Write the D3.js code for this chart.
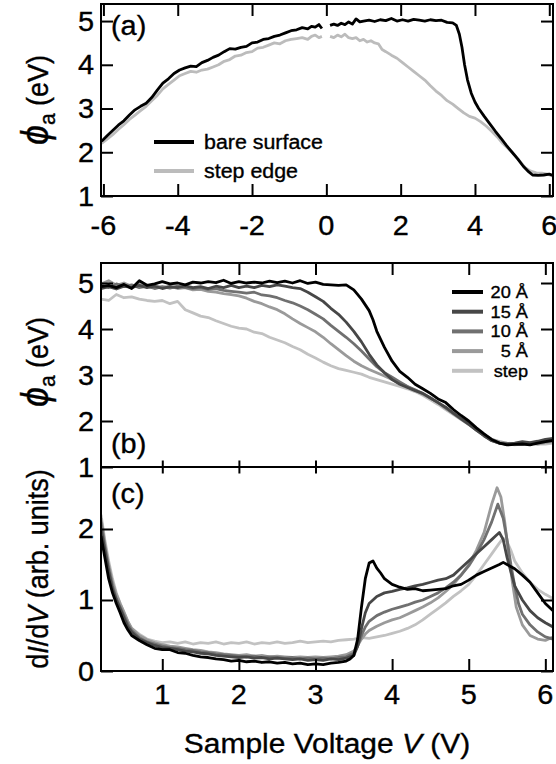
<!DOCTYPE html>
<html><head><meta charset="utf-8">
<script src="https://cdn.jsdelivr.net/npm/d3@7"></script>
<style>body{margin:0;background:#fff}svg{display:block}text{stroke:#000;stroke-width:0.35px}</style>
</head><body><svg id="fig" width="556" height="764"></svg>
<script>
// ---- panel (a): apparent barrier height vs. sample voltage ----
const aTicksX = [-6, -4, -2, 0, 2, 4, 6];
const aTicksY = [1, 2, 3, 4, 5];
const aBareNeg = [[-6.05,2.25],[-5.9,2.38],[-5.75,2.5],[-5.6,2.62],[-5.45,2.72],[-5.3,2.85],[-5.15,2.97],[-5.0,3.05],[-4.85,3.12],[-4.7,3.25],[-4.55,3.42],[-4.4,3.58],[-4.25,3.68],[-4.1,3.8],[-3.95,3.88],[-3.8,3.93],[-3.65,3.97],[-3.5,3.96],[-3.35,4.05],[-3.2,4.1],[-3.05,4.17],[-2.9,4.22],[-2.75,4.3],[-2.6,4.37],[-2.45,4.36],[-2.3,4.4],[-2.15,4.42],[-2.0,4.5],[-1.85,4.52],[-1.7,4.58],[-1.55,4.6],[-1.4,4.65],[-1.25,4.68],[-1.1,4.73],[-0.95,4.78],[-0.8,4.8],[-0.65,4.85],[-0.5,4.82],[-0.4,4.88],[-0.3,4.86],[-0.2,4.92],[-0.12,4.83]];
const aBarePos = [[0.1,4.9],[0.2,4.93],[0.3,4.9],[0.4,4.95],[0.5,4.92],[0.6,4.98],[0.7,4.93],[0.8,5.05],[0.9,4.98],[1.0,5.0],[1.15,5.02],[1.3,4.99],[1.45,5.03],[1.6,5.01],[1.75,5.06],[1.9,5.0],[2.05,5.03],[2.2,5.0],[2.35,5.04],[2.5,5.02],[2.65,5.0],[2.8,5.03],[2.95,5.01],[3.1,5.02],[3.25,4.97],[3.4,4.96],[3.5,4.9],[3.58,4.7],[3.65,4.4],[3.72,4.0],[3.8,3.65],[3.9,3.35],[4.0,3.15],[4.1,3.0],[4.25,2.82],[4.4,2.65],[4.55,2.48],[4.7,2.32],[4.85,2.15],[5.0,2.0],[5.15,1.85],[5.3,1.68],[5.45,1.55],[5.55,1.48],[5.7,1.47],[5.85,1.48],[6.0,1.5],[6.1,1.47]];
const aStepNeg = [[-6.05,2.2],[-5.9,2.3],[-5.75,2.4],[-5.6,2.52],[-5.45,2.63],[-5.3,2.75],[-5.15,2.85],[-5.0,2.95],[-4.85,3.05],[-4.7,3.18],[-4.55,3.3],[-4.4,3.45],[-4.25,3.55],[-4.1,3.65],[-3.95,3.75],[-3.8,3.8],[-3.65,3.85],[-3.5,3.83],[-3.35,3.88],[-3.2,3.9],[-3.05,3.95],[-2.9,4.0],[-2.75,4.08],[-2.6,4.12],[-2.45,4.2],[-2.3,4.22],[-2.15,4.28],[-2.0,4.3],[-1.85,4.38],[-1.7,4.4],[-1.55,4.45],[-1.4,4.5],[-1.25,4.48],[-1.1,4.55],[-0.95,4.58],[-0.8,4.6],[-0.65,4.62],[-0.5,4.58],[-0.4,4.65],[-0.3,4.68],[-0.2,4.62],[-0.12,4.65]];
const aStepPos = [[0.1,4.65],[0.2,4.62],[0.3,4.68],[0.4,4.64],[0.5,4.7],[0.6,4.62],[0.7,4.6],[0.8,4.62],[0.9,4.55],[1.0,4.58],[1.1,4.52],[1.2,4.55],[1.3,4.5],[1.4,4.48],[1.5,4.35],[1.6,4.3],[1.75,4.22],[1.9,4.15],[2.05,4.05],[2.2,3.95],[2.35,3.85],[2.5,3.75],[2.65,3.65],[2.8,3.52],[2.95,3.4],[3.1,3.3],[3.25,3.18],[3.4,3.1],[3.55,3.0],[3.7,2.9],[3.85,2.82],[4.0,2.78],[4.15,2.7],[4.3,2.6],[4.45,2.48],[4.6,2.35],[4.75,2.2],[4.9,2.08],[5.05,1.95],[5.2,1.8],[5.35,1.65],[5.5,1.57],[5.65,1.53],[5.8,1.52],[5.95,1.5],[6.1,1.45]];
const aLegend = ["bare surface", "step edge"];

// ---- panels (b) and (c): thickness series ----
const bcTicksX = [1, 2, 3, 4, 5, 6];
const bTicksY = [1, 2, 3, 4, 5];
const cTicksY = [0, 1, 2];
const seriesNames = ["20 Å", "15 Å", "10 Å", "5 Å", "step"];
const seriesColors = ["#000000", "#474747", "#707070", "#9a9a9a", "#c2c2c2"];

const b20 = [[0.2,4.92],[0.3,4.95],[0.4,4.9],[0.5,4.97],[0.6,4.88],[0.7,5.05],[0.8,4.95],[0.9,4.98],[1.0,5.03],[1.1,4.98],[1.2,5.0],[1.3,4.96],[1.4,5.02],[1.5,5.0],[1.6,5.03],[1.7,5.01],[1.8,5.06],[1.9,4.99],[2.0,5.03],[2.1,5.0],[2.2,5.02],[2.3,5.0],[2.4,5.04],[2.5,5.01],[2.6,5.04],[2.7,5.0],[2.8,5.05],[2.9,4.99],[3.0,5.02],[3.1,4.97],[3.2,4.96],[3.3,4.95],[3.4,4.96],[3.5,4.85],[3.6,4.65],[3.7,4.4],[3.75,4.2],[3.8,3.95],[3.9,3.6],[4.0,3.3],[4.1,3.08],[4.2,2.95],[4.3,2.8],[4.4,2.7],[4.5,2.6],[4.6,2.48],[4.7,2.4],[4.8,2.25],[4.9,2.12],[5.0,2.0],[5.1,1.85],[5.2,1.72],[5.3,1.6],[5.4,1.52],[5.5,1.48],[5.6,1.49],[5.7,1.5],[5.8,1.48],[5.9,1.52],[6.0,1.55],[6.1,1.58]];
const b15 = [[0.2,4.88],[0.3,4.92],[0.4,4.87],[0.5,4.93],[0.6,4.9],[0.7,4.95],[0.8,4.9],[0.9,4.93],[1.0,4.88],[1.1,4.92],[1.2,4.9],[1.3,4.94],[1.4,4.9],[1.5,4.92],[1.6,4.88],[1.7,4.93],[1.8,4.9],[1.9,4.95],[2.0,4.9],[2.1,4.93],[2.2,4.9],[2.3,4.95],[2.4,4.92],[2.5,4.96],[2.6,4.93],[2.7,4.9],[2.8,4.88],[2.9,4.8],[3.0,4.7],[3.1,4.6],[3.2,4.45],[3.3,4.32],[3.4,4.15],[3.5,3.95],[3.6,3.72],[3.7,3.45],[3.8,3.22],[3.9,3.05],[4.0,2.9],[4.1,2.8],[4.2,2.73],[4.3,2.66],[4.4,2.6],[4.5,2.5],[4.6,2.4],[4.7,2.3],[4.8,2.17],[4.9,2.05],[5.0,1.93],[5.1,1.8],[5.2,1.68],[5.3,1.57],[5.4,1.52],[5.5,1.5],[5.6,1.52],[5.7,1.55],[5.8,1.53],[5.9,1.56],[6.0,1.6],[6.1,1.62]];
const b10 = [[0.2,4.95],[0.3,4.9],[0.4,4.98],[0.5,4.92],[0.6,4.96],[0.7,4.9],[0.8,4.93],[0.9,4.88],[1.0,4.92],[1.1,4.89],[1.2,4.93],[1.3,4.9],[1.4,4.88],[1.5,4.9],[1.6,4.86],[1.7,4.88],[1.8,4.84],[1.9,4.82],[2.0,4.8],[2.1,4.78],[2.2,4.8],[2.3,4.74],[2.4,4.72],[2.5,4.68],[2.6,4.62],[2.7,4.57],[2.8,4.5],[2.9,4.42],[3.0,4.32],[3.1,4.22],[3.2,4.08],[3.3,3.95],[3.4,3.82],[3.5,3.68],[3.6,3.52],[3.7,3.35],[3.8,3.18],[3.9,3.05],[4.0,2.95],[4.1,2.85],[4.2,2.75],[4.3,2.68],[4.4,2.6],[4.5,2.5],[4.6,2.4],[4.7,2.28],[4.8,2.16],[4.9,2.04],[5.0,1.93],[5.1,1.8],[5.2,1.68],[5.3,1.58],[5.4,1.52],[5.5,1.5],[5.6,1.5],[5.7,1.52],[5.8,1.5],[5.9,1.53],[6.0,1.55],[6.1,1.57]];
const b5 = [[0.2,4.98],[0.3,5.05],[0.4,4.95],[0.5,5.0],[0.6,4.93],[0.7,4.97],[0.8,4.92],[0.9,4.95],[1.0,4.9],[1.1,4.93],[1.2,4.88],[1.3,4.9],[1.4,4.85],[1.5,4.86],[1.6,4.82],[1.7,4.8],[1.8,4.77],[1.9,4.75],[2.0,4.72],[2.1,4.67],[2.2,4.6],[2.3,4.55],[2.4,4.48],[2.5,4.42],[2.6,4.33],[2.7,4.22],[2.8,4.12],[2.9,4.03],[3.0,3.94],[3.1,3.82],[3.2,3.68],[3.3,3.55],[3.4,3.42],[3.5,3.3],[3.6,3.2],[3.7,3.12],[3.8,3.05],[3.9,2.98],[4.0,2.9],[4.1,2.82],[4.2,2.75],[4.3,2.67],[4.4,2.58],[4.5,2.5],[4.6,2.4],[4.7,2.28],[4.8,2.17],[4.9,2.05],[5.0,1.94],[5.1,1.82],[5.2,1.7],[5.3,1.6],[5.4,1.55],[5.5,1.52],[5.6,1.5],[5.7,1.5],[5.8,1.52],[5.9,1.5],[6.0,1.53],[6.1,1.55]];
const bStep = [[0.2,4.65],[0.3,4.62],[0.4,4.75],[0.5,4.68],[0.6,4.7],[0.7,4.65],[0.8,4.62],[0.9,4.6],[1.0,4.62],[1.1,4.55],[1.2,4.6],[1.3,4.42],[1.4,4.35],[1.5,4.28],[1.6,4.25],[1.7,4.18],[1.8,4.12],[1.9,4.06],[2.0,4.02],[2.1,4.0],[2.2,3.93],[2.3,3.9],[2.4,3.82],[2.5,3.76],[2.6,3.7],[2.7,3.62],[2.8,3.55],[2.9,3.45],[3.0,3.37],[3.1,3.28],[3.2,3.2],[3.3,3.14],[3.4,3.1],[3.5,3.06],[3.6,3.02],[3.7,2.95],[3.8,2.9],[3.9,2.85],[4.0,2.8],[4.1,2.75],[4.2,2.7],[4.3,2.64],[4.4,2.56],[4.5,2.46],[4.6,2.36],[4.7,2.25],[4.8,2.14],[4.9,2.03],[5.0,1.92],[5.1,1.8],[5.2,1.68],[5.3,1.58],[5.4,1.52],[5.5,1.5],[5.6,1.48],[5.7,1.5],[5.8,1.52],[5.9,1.5],[6.0,1.5],[6.1,1.52]];

const c20 = [[0.2,1.9],[0.25,1.6],[0.3,1.3],[0.35,1.1],[0.4,0.95],[0.45,0.82],[0.5,0.68],[0.55,0.58],[0.6,0.5],[0.7,0.43],[0.8,0.37],[0.9,0.32],[1.0,0.3],[1.1,0.3],[1.2,0.26],[1.3,0.25],[1.4,0.22],[1.5,0.2],[1.6,0.19],[1.7,0.17],[1.8,0.16],[1.9,0.14],[2.0,0.15],[2.1,0.13],[2.2,0.14],[2.3,0.12],[2.4,0.13],[2.5,0.11],[2.6,0.12],[2.7,0.1],[2.8,0.11],[2.9,0.09],[3.0,0.1],[3.1,0.09],[3.2,0.11],[3.3,0.12],[3.4,0.14],[3.45,0.17],[3.5,0.22],[3.55,0.45],[3.6,0.9],[3.65,1.3],[3.7,1.52],[3.75,1.55],[3.8,1.45],[3.85,1.38],[3.9,1.3],[4.0,1.22],[4.1,1.18],[4.2,1.15],[4.3,1.16],[4.4,1.13],[4.5,1.14],[4.6,1.15],[4.7,1.16],[4.8,1.2],[4.9,1.22],[5.0,1.28],[5.1,1.35],[5.2,1.4],[5.3,1.45],[5.4,1.5],[5.45,1.53],[5.5,1.5],[5.6,1.44],[5.7,1.35],[5.8,1.25],[5.9,1.1],[6.0,0.95],[6.1,0.85]];
const c15 = [[0.2,2.0],[0.25,1.7],[0.3,1.4],[0.35,1.15],[0.4,1.0],[0.45,0.88],[0.5,0.75],[0.55,0.62],[0.6,0.55],[0.7,0.45],[0.8,0.4],[0.9,0.36],[1.0,0.33],[1.1,0.32],[1.2,0.3],[1.3,0.28],[1.4,0.27],[1.5,0.25],[1.6,0.24],[1.7,0.22],[1.8,0.21],[1.9,0.2],[2.0,0.19],[2.1,0.2],[2.2,0.18],[2.3,0.19],[2.4,0.17],[2.5,0.18],[2.6,0.17],[2.7,0.16],[2.8,0.17],[2.9,0.15],[3.0,0.16],[3.1,0.15],[3.2,0.17],[3.3,0.16],[3.4,0.18],[3.5,0.22],[3.55,0.35],[3.6,0.6],[3.65,0.82],[3.7,0.95],[3.8,1.05],[3.9,1.1],[4.0,1.12],[4.1,1.15],[4.2,1.17],[4.3,1.2],[4.4,1.22],[4.5,1.25],[4.6,1.28],[4.7,1.3],[4.8,1.35],[4.9,1.45],[5.0,1.55],[5.1,1.65],[5.2,1.75],[5.3,1.85],[5.35,1.9],[5.4,1.95],[5.45,1.85],[5.5,1.6],[5.55,1.4],[5.6,1.2],[5.7,1.0],[5.8,0.85],[5.9,0.75],[6.0,0.68],[6.1,0.62]];
const c10 = [[0.2,2.1],[0.25,1.75],[0.3,1.45],[0.35,1.2],[0.4,1.02],[0.45,0.9],[0.5,0.78],[0.55,0.66],[0.6,0.57],[0.7,0.47],[0.8,0.41],[0.9,0.38],[1.0,0.35],[1.1,0.33],[1.2,0.32],[1.3,0.3],[1.4,0.29],[1.5,0.27],[1.6,0.26],[1.7,0.24],[1.8,0.23],[1.9,0.22],[2.0,0.21],[2.1,0.2],[2.2,0.21],[2.3,0.19],[2.4,0.2],[2.5,0.19],[2.6,0.18],[2.7,0.19],[2.8,0.17],[2.9,0.18],[3.0,0.17],[3.1,0.18],[3.2,0.17],[3.3,0.19],[3.4,0.2],[3.5,0.25],[3.55,0.35],[3.6,0.5],[3.65,0.62],[3.7,0.7],[3.8,0.78],[3.9,0.83],[4.0,0.87],[4.1,0.9],[4.2,0.93],[4.3,0.97],[4.4,1.0],[4.5,1.05],[4.6,1.1],[4.7,1.17],[4.8,1.25],[4.9,1.35],[5.0,1.48],[5.1,1.65],[5.2,1.85],[5.3,2.1],[5.38,2.35],[5.45,2.15],[5.5,1.85],[5.55,1.5],[5.6,1.2],[5.65,0.95],[5.7,0.8],[5.8,0.65],[5.9,0.55],[6.0,0.48],[6.1,0.45]];
const c5 = [[0.2,2.15],[0.25,1.8],[0.3,1.5],[0.35,1.25],[0.4,1.08],[0.45,0.95],[0.5,0.83],[0.55,0.7],[0.6,0.6],[0.7,0.5],[0.8,0.44],[0.9,0.4],[1.0,0.37],[1.1,0.35],[1.2,0.34],[1.3,0.32],[1.4,0.3],[1.5,0.29],[1.6,0.27],[1.7,0.26],[1.8,0.24],[1.9,0.23],[2.0,0.22],[2.1,0.23],[2.2,0.21],[2.3,0.22],[2.4,0.2],[2.5,0.21],[2.6,0.2],[2.7,0.19],[2.8,0.2],[2.9,0.19],[3.0,0.2],[3.1,0.19],[3.2,0.2],[3.3,0.21],[3.4,0.23],[3.5,0.28],[3.55,0.36],[3.6,0.45],[3.65,0.52],[3.7,0.57],[3.8,0.63],[3.9,0.68],[4.0,0.72],[4.1,0.75],[4.2,0.8],[4.3,0.85],[4.4,0.9],[4.5,0.96],[4.6,1.03],[4.7,1.12],[4.8,1.22],[4.9,1.35],[5.0,1.5],[5.1,1.7],[5.2,1.95],[5.3,2.35],[5.37,2.58],[5.42,2.45],[5.47,2.1],[5.52,1.65],[5.57,1.25],[5.62,0.9],[5.7,0.65],[5.8,0.5],[5.9,0.45],[6.0,0.43],[6.1,0.48]];
const cStep = [[0.2,2.2],[0.25,1.85],[0.3,1.55],[0.35,1.3],[0.4,1.1],[0.45,0.95],[0.5,0.82],[0.55,0.7],[0.6,0.6],[0.7,0.52],[0.8,0.45],[0.9,0.42],[1.0,0.4],[1.1,0.41],[1.2,0.39],[1.3,0.41],[1.4,0.38],[1.5,0.4],[1.6,0.39],[1.7,0.41],[1.8,0.38],[1.9,0.4],[2.0,0.39],[2.1,0.41],[2.2,0.38],[2.3,0.4],[2.4,0.39],[2.5,0.41],[2.6,0.39],[2.7,0.4],[2.8,0.42],[2.9,0.4],[3.0,0.41],[3.1,0.42],[3.2,0.41],[3.3,0.43],[3.4,0.44],[3.5,0.45],[3.6,0.47],[3.7,0.46],[3.8,0.48],[3.9,0.5],[4.0,0.53],[4.1,0.56],[4.2,0.6],[4.3,0.65],[4.4,0.72],[4.5,0.8],[4.6,0.88],[4.7,0.96],[4.8,1.05],[4.9,1.13],[5.0,1.22],[5.1,1.35],[5.2,1.5],[5.3,1.65],[5.4,1.8],[5.45,1.87],[5.5,1.82],[5.55,1.7],[5.6,1.55],[5.7,1.38],[5.8,1.25],[5.9,1.15],[6.0,1.08],[6.1,1.02]];

// ---- drawing ----
const FONT = "'Liberation Sans', Arial, Helvetica, sans-serif";
const SX = 1.07;          // slight horizontal widening of lettering
const svg = d3.select("#fig");
const L = 101, R = 553;

const xA = d3.scaleLinear().domain([-6.065, 6.1]).range([L, R]);
const yA = d3.scaleLinear().domain([1, 5.39]).range([196, 4]);
const xBC = d3.scaleLinear().domain([0.2, 6.1]).range([L, R]);
const yB = d3.scaleLinear().domain([1, 5.435]).range([467, 263]);
const yC = d3.scaleLinear().domain([0, 2.873]).range([671, 467]);

function txt(x, y, s, size, anchor) {
  return svg.append("text")
    .attr("transform", `translate(${x},${y}) scale(${SX},1)`)
    .attr("font-family", FONT).attr("font-size", size)
    .attr("text-anchor", anchor || "start").attr("fill", "#000").text(s);
}

function frame(x, y, ticksX, ticksY, opts) {
  const g = svg.append("g");
  const [x0, x1] = x.range(), [y0, y1] = y.range();
  const tl = 12;
  // inward tick marks from d3 axes
  const axes = [
    [d3.axisBottom(x).tickValues(ticksX).tickSize(-(opts.bottomTick || tl)), `translate(0,${y0})`],
    [d3.axisTop(x).tickValues(ticksX).tickSize(-(opts.topTick || tl)), `translate(0,${y1})`],
    [d3.axisLeft(y).tickValues(ticksY).tickSize(-tl), `translate(${x0},0)`],
    [d3.axisRight(y).tickValues(ticksY).tickSize(-tl), `translate(${x1},0)`]
  ];
  axes.forEach(([ax, tr]) => {
    const a = g.append("g").attr("transform", tr).call(ax.tickFormat(""));
    a.select(".domain").remove();
    a.selectAll(".tick line").attr("stroke", "#000").attr("stroke-width", 2);
  });
  g.append("rect").attr("x", x0).attr("y", y1).attr("width", x1 - x0).attr("height", y0 - y1)
    .attr("fill", "none").attr("stroke", "#000").attr("stroke-width", 2);
  // tick labels
  ticksY.forEach(v => txt(x0 - 7, y(v) + 9.5, String(v), 27, "end"));
  if (opts.xLabels) ticksX.forEach(v => txt(x(v), opts.xLabelY, String(v), 27, "middle"));
}

function curve(x, y, pts, color, clipId) {
  const line = d3.line().x(d => x(d[0])).y(d => y(d[1]));
  svg.append("path").attr("d", line(pts)).attr("fill", "none")
    .attr("stroke", color).attr("stroke-width", 2.8).attr("stroke-linejoin", "round")
    .attr("clip-path", `url(#${clipId})`);
}

const defs = svg.append("defs");
[["clipA", xA, yA], ["clipB", xBC, yB], ["clipC", xBC, yC]].forEach(([id, x, y]) => {
  defs.append("clipPath").attr("id", id).append("rect")
    .attr("x", x.range()[0]).attr("y", y.range()[1])
    .attr("width", x.range()[1] - x.range()[0]).attr("height", y.range()[0] - y.range()[1]);
});

// panel (a)
[aStepNeg, aStepPos].forEach(p => curve(xA, yA, p, "#bcbcbc", "clipA"));
[aBareNeg, aBarePos].forEach(p => curve(xA, yA, p, "#000", "clipA"));
frame(xA, yA, aTicksX, aTicksY, { xLabels: true, xLabelY: 235 });
txt(111, 35, "(a)", 27);
// legend (a)
[["#000", aLegend[0]], ["#bcbcbc", aLegend[1]]].forEach(([c, s], i) => {
  const yy = 142 + i * 29;
  svg.append("line").attr("x1", 154).attr("x2", 194).attr("y1", yy).attr("y2", yy)
    .attr("stroke", c).attr("stroke-width", 4);
  txt(204, yy + 7, s, 20);
});

// panel (b)
const bSeries = [b20, b15, b10, b5, bStep];
for (let i = bSeries.length - 1; i >= 0; i--) curve(xBC, yB, bSeries[i], seriesColors[i], "clipB");
frame(xBC, yB, bcTicksX, bTicksY, { bottomTick: 6.5 });
txt(111, 453, "(b)", 27);
seriesNames.forEach((s, i) => {
  const yy = 292 + i * 19.7;
  svg.append("line").attr("x1", 452).attr("x2", 483).attr("y1", yy).attr("y2", yy)
    .attr("stroke", seriesColors[i]).attr("stroke-width", 4);
  txt(528, yy + 6, s, 17, "end");
});

// panel (c)
const cSeries = [c20, c15, c10, c5, cStep];
for (let i = cSeries.length - 1; i >= 0; i--) curve(xBC, yC, cSeries[i], seriesColors[i], "clipC");
frame(xBC, yC, bcTicksX, cTicksY, { topTick: 6.5, xLabels: true, xLabelY: 704 });
txt(111, 503, "(c)", 27);

// axis titles
function phiTitle(cy) {
  const t = svg.append("text").attr("transform", `translate(48,${cy}) rotate(-90) scale(1,${SX})`)
    .attr("font-family", FONT).attr("font-size", 27).attr("text-anchor", "middle");
  t.append("tspan").attr("font-style", "italic").attr("font-size", 36).text("ϕ");
  t.append("tspan").attr("font-size", 21).attr("dy", 7).text("a");
  t.append("tspan").attr("dy", -7).text(" (eV)");
}
phiTitle(100);
phiTitle(362);

const t3 = svg.append("text").attr("transform", `translate(48,569) rotate(-90) scale(1,${SX})`)
  .attr("font-family", FONT).attr("font-size", 27).attr("text-anchor", "middle");
t3.append("tspan").text("d");
t3.append("tspan").attr("font-style", "italic").text("I");
t3.append("tspan").text("/d");
t3.append("tspan").attr("font-style", "italic").text("V");
t3.append("tspan").text(" (arb. units)");

const t4 = svg.append("text").attr("transform", `translate(327,753) scale(${SX},1)`)
  .attr("font-family", FONT).attr("font-size", 28).attr("text-anchor", "middle");
t4.append("tspan").text("Sample Voltage ");
t4.append("tspan").attr("font-style", "italic").text("V");
t4.append("tspan").text(" (V)");
</script>
</body></html>
